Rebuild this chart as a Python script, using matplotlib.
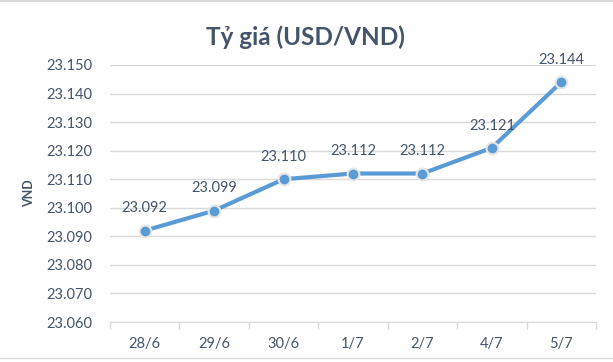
# Exchange rate USD/VND, late June - early July
import matplotlib.pyplot as plt
import matplotlib.lines as mlines
import numpy as np

plt.rcParams['font.family'] = ['Lato', 'DejaVu Sans']

dates = ["28/6", "29/6", "30/6", "1/7", "2/7", "4/7", "5/7"]
rate = [23.092, 23.099, 23.110, 23.112, 23.112, 23.121, 23.144]
yticks = [23.060, 23.070, 23.080, 23.090, 23.100, 23.110, 23.120, 23.130, 23.140, 23.150]

text_col = "#44546A"
grid_col = "#D9D9D9"
line_col = "#5B9BD5"

fig = plt.figure(figsize=(6.13, 3.62), dpi=100)
ax = fig.add_axes([110 / 613, 1 - 322 / 362, (596 - 110) / 613, (322 - 65) / 362])

x = np.arange(len(dates))
ax.plot(x, rate, color=line_col, lw=3, marker="o", ms=8.5,
        markerfacecolor=line_col, markeredgecolor="#E7E6E6", markeredgewidth=1.5,
        solid_capstyle="round", zorder=3)

for xi, v in zip(x, rate):
    ax.annotate(f"{v:.3f}", (xi, v), xytext=(0, 11), textcoords="offset points",
                ha="center", va="bottom", fontsize=10.5, color=text_col)

ax.set_xlim(-0.5, len(dates) - 0.5)
ax.set_ylim(23.060, 23.150)
ax.set_yticks(yticks)
ax.set_yticklabels([f"{v:.3f}" for v in yticks])
ax.set_xticks(x)
ax.set_xticklabels(dates)
ax.set_xticks(np.arange(-0.5, len(dates)), minor=True)

ax.grid(axis="y", color=grid_col, lw=1)
ax.set_axisbelow(True)
for s in ["top", "right", "left"]:
    ax.spines[s].set_visible(False)
ax.spines["bottom"].set_color(grid_col)

ax.tick_params(axis="y", length=0, pad=12.5, labelsize=10.5, labelcolor=text_col)
ax.tick_params(axis="x", which="major", length=0, pad=11, labelsize=10.5, labelcolor=text_col)
ax.tick_params(axis="x", which="minor", length=5, color=grid_col, width=1)

fig.text(29 / 613, 1 - 193 / 362, "VND", rotation=90, ha="center", va="center",
         fontsize=9, fontweight="bold", color=text_col)

fig.text(0.498, 0.897, "Tỷ giá (USD/VND)", ha="center", va="center",
         fontsize=17.5, fontweight="bold", color=text_col)

# faint border artifacts from the source image
fig.add_artist(mlines.Line2D([0, 1], [1 - 1 / 362, 1 - 1 / 362], color=grid_col, lw=1.5,
                             transform=fig.transFigure))
fig.add_artist(mlines.Line2D([0, 1], [1 - 358 / 362, 1 - 358 / 362], color=grid_col, lw=1,
                             transform=fig.transFigure))

fig.savefig("out.png", dpi=100)
